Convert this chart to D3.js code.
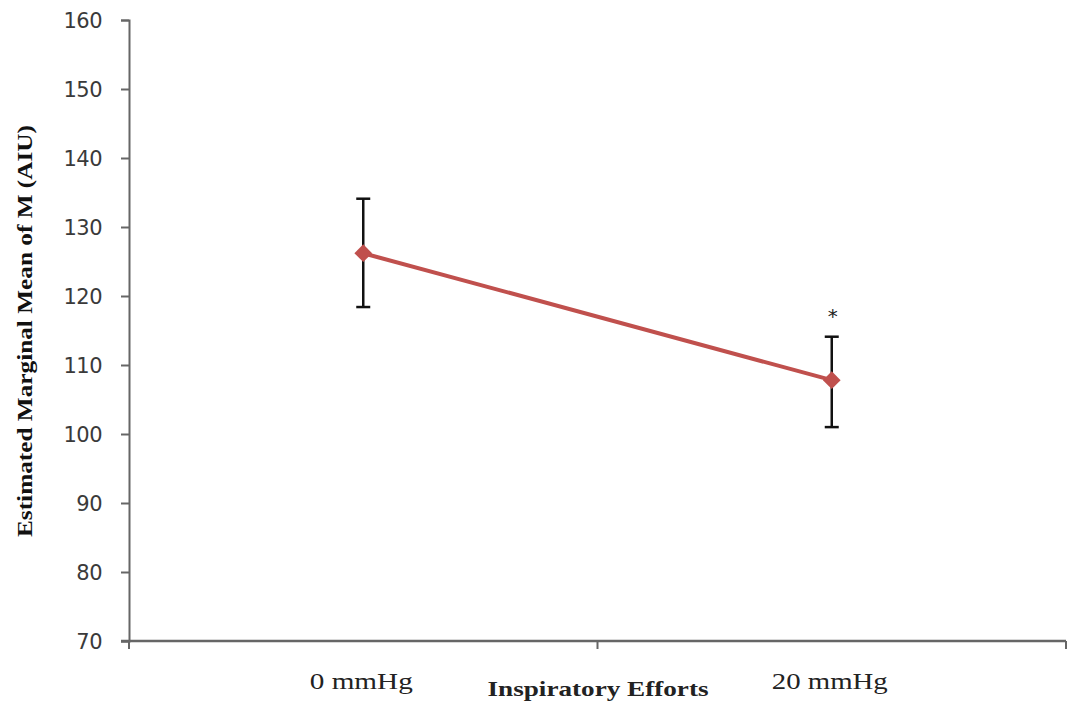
<!DOCTYPE html>
<html>
<head>
<meta charset="utf-8">
<script src="https://cdn.jsdelivr.net/npm/d3@7"></script>
<style>
  html, body { margin: 0; padding: 0; background: #fff; }
  svg { display: block; }
</style>
</head>
<body>
<svg id="chart" width="1088" height="705"></svg>
<script>
// Inspiratory effort levels and estimated marginal means with error ranges
const categories = ["0 mmHg", "20 mmHg"];
const means = [126.2, 107.8];
const upper = [134.1, 114.1];
const lower = [118.4, 101.0];
const significant = [false, true];
const yTicks = [70, 80, 90, 100, 110, 120, 130, 140, 150, 160];

const svg = d3.select("#chart");
const plotLeft = 129, plotRight = 1066, plotTop = 20, plotBottom = 641;

const x = d3.scaleBand().domain(categories).range([plotLeft, plotRight]);
const y = d3.scaleLinear().domain([70, 160]).range([plotBottom, plotTop]);
const axisColor = "#666";

// y axis
const yAxis = svg.append("g")
  .attr("transform", `translate(${plotLeft},0)`)
  .call(d3.axisLeft(y).tickValues(yTicks).tickSize(8).tickPadding(19).tickFormat(d3.format("d")));
yAxis.select(".domain").attr("stroke", axisColor).attr("stroke-width", 2);
yAxis.selectAll(".tick line").attr("stroke", axisColor).attr("stroke-width", 2);
yAxis.selectAll(".tick text")
  .attr("fill", "#3a3a3a")
  .attr("dy", "0.36em")
  .style("font-family", "'DejaVu Sans', Verdana, sans-serif")
  .style("font-size", "21px")
  .style("letter-spacing", "-0.5px");

// x axis: line with ticks on category boundaries
const xAxisG = svg.append("g");
xAxisG.append("line")
  .attr("x1", plotLeft - 8).attr("x2", plotRight)
  .attr("y1", plotBottom).attr("y2", plotBottom)
  .attr("stroke", axisColor).attr("stroke-width", 2.5);
const boundaries = [x.range()[0]].concat(categories.map(c => x(c) + x.bandwidth()));
xAxisG.selectAll("line.tick").data(boundaries).join("line")
  .attr("class", "tick")
  .attr("x1", d => d).attr("x2", d => d)
  .attr("y1", plotBottom).attr("y2", plotBottom + 8)
  .attr("stroke", axisColor).attr("stroke-width", 2);
xAxisG.selectAll("text.cat").data(categories).join("text")
  .attr("class", "cat")
  .attr("x", d => x(d) + x.bandwidth() / 2 - 2)
  .attr("y", 689)
  .attr("text-anchor", "middle")
  .attr("fill", "#222")
  .attr("textLength", (d, i) => i === 0 ? 103 : 116)
  .attr("lengthAdjust", "spacingAndGlyphs")
  .style("font-family", "'Liberation Serif', 'Times New Roman', serif")
  .style("font-size", "24px")
  .text(d => d);

// axis titles
svg.append("text")
  .attr("x", 598).attr("y", 696)
  .attr("text-anchor", "middle")
  .attr("fill", "#222")
  .attr("textLength", 221)
  .attr("lengthAdjust", "spacingAndGlyphs")
  .style("font-family", "'Liberation Serif', 'Times New Roman', serif")
  .style("font-size", "21px")
  .style("font-weight", "bold")
  .text("Inspiratory Efforts");

svg.append("text")
  .attr("transform", "translate(32,331) rotate(-90)")
  .attr("text-anchor", "middle")
  .attr("fill", "#111")
  .attr("textLength", 412)
  .attr("lengthAdjust", "spacingAndGlyphs")
  .style("font-family", "'Liberation Serif', 'Times New Roman', serif")
  .style("font-size", "22px")
  .style("font-weight", "bold")
  .text("Estimated Marginal Mean of M (AIU)");

const cx = d => x(d) + x.bandwidth() / 2;
const rows = categories.map((c, i) => ({ c, m: means[i], hi: upper[i], lo: lower[i], sig: significant[i] }));

// error bars
const eb = svg.append("g").attr("stroke", "#111").attr("stroke-width", 2.5);
eb.selectAll("line.v").data(rows).join("line").attr("class", "v")
  .attr("x1", d => cx(d.c)).attr("x2", d => cx(d.c))
  .attr("y1", d => y(d.hi)).attr("y2", d => y(d.lo));
eb.selectAll("line.t").data(rows).join("line").attr("class", "t")
  .attr("x1", d => cx(d.c) - 7).attr("x2", d => cx(d.c) + 7)
  .attr("y1", d => y(d.hi)).attr("y2", d => y(d.hi));
eb.selectAll("line.b").data(rows).join("line").attr("class", "b")
  .attr("x1", d => cx(d.c) - 7).attr("x2", d => cx(d.c) + 7)
  .attr("y1", d => y(d.lo)).attr("y2", d => y(d.lo));

// mean line
svg.append("path")
  .datum(rows)
  .attr("fill", "none")
  .attr("stroke", "#c0504d")
  .attr("stroke-width", 4)
  .attr("d", d3.line().x(d => cx(d.c)).y(d => y(d.m)));

// diamond markers
svg.selectAll("path.marker").data(rows).join("path")
  .attr("class", "marker")
  .attr("transform", d => `translate(${cx(d.c)},${y(d.m)})`)
  .attr("d", d3.symbol().type(d3.symbolDiamond2).size(200))
  .attr("fill", "#c0504d");

// significance mark
svg.selectAll("text.sig").data(rows.filter(d => d.sig)).join("text")
  .attr("class", "sig")
  .attr("x", d => cx(d.c) + 1)
  .attr("y", d => y(d.hi) - 14)
  .attr("text-anchor", "middle")
  .attr("fill", "#222")
  .style("font-family", "'DejaVu Sans', sans-serif")
  .style("font-size", "20px")
  .text("*");
</script>
</body>
</html>
